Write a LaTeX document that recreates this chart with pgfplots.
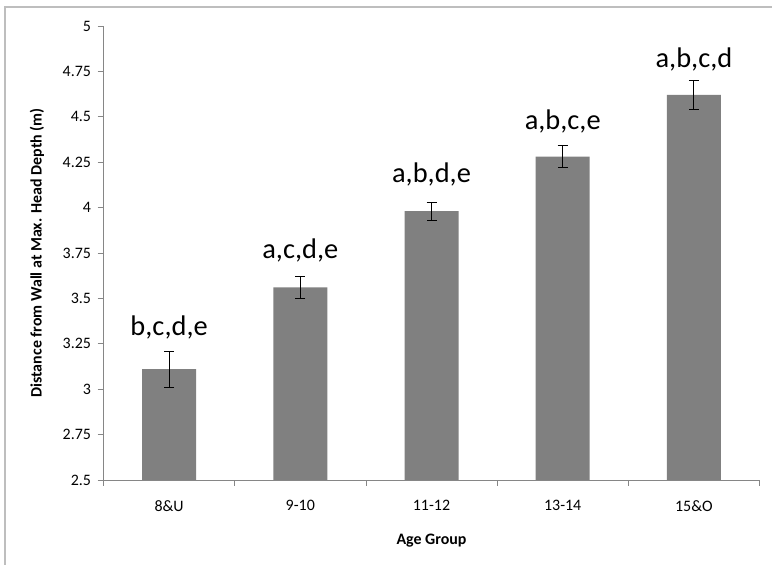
\documentclass[border=0pt]{standalone}
\usepackage{pgfplots}
\pgfplotsset{compat=1.18}
\usepackage{pgfplotstable}
\usepackage{fontspec}
\setmainfont{Carlito}
\definecolor{bargray}{RGB}{128,128,128}
\definecolor{axgray}{RGB}{134,134,134}
\definecolor{framegray}{RGB}{190,190,190}
\pgfplotstableread{
x val err laby label
0 3.11 0.10 3.298 {b,c,d,e}
1 3.56 0.06 3.721 {a,c,d,e}
2 3.98 0.05 4.139 {a,b,d,e}
3 4.28 0.06 4.431 {a,b,c,e}
4 4.62 0.08 4.770 {a,b,c,d}
}\datatable
\begin{document}
\begin{tikzpicture}[x=1bp,y=1bp]
\useasboundingbox (0,0) rectangle (772,565);
\draw[framegray, line width=1.2bp] (5,0) -- (5,558) -- (772,558);
\begin{axis}[
  at={(103.5bp,85bp)}, anchor=south west,
  scale only axis, width=656bp, height=454bp,
  xmin=-0.5, xmax=4.5, ymin=2.5, ymax=5,
  axis x line*=bottom, axis y line*=left,
  axis line style={axgray, line width=0.8bp},
  ytick={2.5,2.75,...,5.01},
  yticklabels={2.5,2.75,3,3.25,3.5,3.75,4,4.25,4.5,4.75,5},
  xtick={0,1,2,3,4},
  xticklabels={8\&U,9-10,11-12,13-14,15\&O},
  minor xtick={-0.5,0.5,1.5,2.5,3.5,4.5},
  tick align=outside,
  tick style={axgray, line width=0.8bp},
  major x tick style={draw=none},
  major tick length=6bp, minor tick length=6bp,
  ticklabel style={font=\fontsize{16}{19}\selectfont, black},
  yticklabel style={xshift=-3bp},
  xticklabel style={yshift=-11bp},
  xlabel={\bfseries Age Group},
  ylabel={\bfseries Distance from Wall at Max. Head Depth (m)},
  label style={font=\fontsize{16}{19}\selectfont\bfseries},
  xlabel style={at={(axis description cs:0.5,0)}, anchor=base, yshift=-65bp},
  ylabel style={at={(axis description cs:-0.1014,0.5)}, anchor=center},
  clip=false,
]
\addplot[ybar, bar width=54bp, bar shift=0pt, fill=bargray, draw=none,
  error bars/.cd, y dir=both, y explicit,
  error bar style={black, line width=0.9bp},
  error mark options={rotate=90, mark size=5bp, black, line width=0.9bp}]
  table[x=x, y=val, y error=err] {\datatable};
\addplot[draw=none, mark=none, nodes near coords, point meta=explicit symbolic,
  every node near coord/.style={anchor=base, inner sep=0pt, black, font=\fontsize{28.5}{33}\selectfont}]
  table[x=x, y=laby, meta=label] {\datatable};
\end{axis}
\end{tikzpicture}
\end{document}
